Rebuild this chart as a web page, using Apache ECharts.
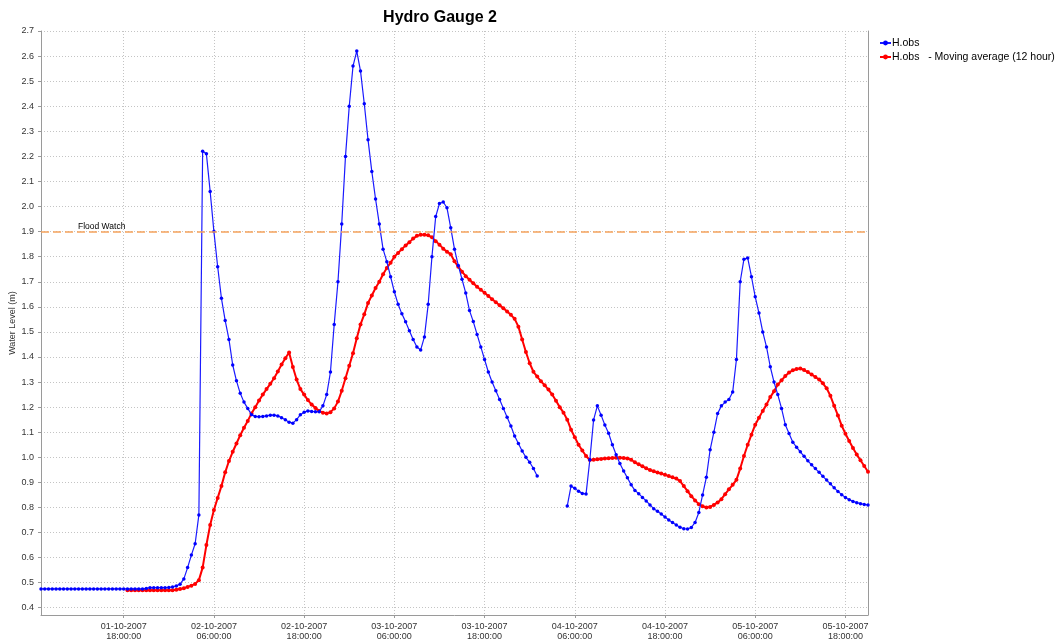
<!DOCTYPE html>
<html>
<head>
<meta charset="utf-8">
<title>Hydro Gauge 2</title>
<script src="https://cdn.jsdelivr.net/npm/echarts@6/dist/echarts.min.js"></script>
<style>
  html, body { margin: 0; padding: 0; background: #ffffff; }
  #chart { width: 1060px; height: 643px; }
</style>
</head>
<body>
<div id="chart"></div>
<script>
// Time is counted in hours from 01-10-2007 00:00, one reading every 30 minutes.
const STEP_HOURS = 0.5;
const OBS_START_HOUR = 7;     // 01-10-2007 07:00
const AVG_START_HOUR = 18.5;  // first complete 12 hour window

// Observed water level (m); null = no reading
const obsLevels = [
  0.475, 0.475, 0.475, 0.475, 0.475, 0.475, 0.475, 0.475, 0.475, 0.475,
  0.475, 0.475, 0.475, 0.475, 0.475, 0.475, 0.475, 0.475, 0.475, 0.475,
  0.475, 0.475, 0.475, 0.475, 0.475, 0.475, 0.475, 0.475, 0.477, 0.48,
  0.48, 0.48, 0.48, 0.48, 0.481, 0.483, 0.487, 0.494, 0.515, 0.56,
  0.61, 0.655, 0.77, 2.22, 2.21, 2.06, 1.90, 1.76, 1.634, 1.545,
  1.47, 1.368, 1.305, 1.255, 1.22, 1.195, 1.17, 1.163, 1.162, 1.163,
  1.165, 1.168, 1.168, 1.165, 1.158, 1.15, 1.14, 1.136, 1.15, 1.17,
  1.18, 1.185, 1.183, 1.182, 1.182, 1.205, 1.25, 1.34, 1.53, 1.70,
  1.93, 2.20, 2.40, 2.56, 2.62, 2.54, 2.41, 2.266, 2.14, 2.03,
  1.93, 1.83, 1.78, 1.72, 1.66, 1.61, 1.572, 1.54, 1.505, 1.47,
  1.44, 1.428, 1.48, 1.61, 1.80, 1.96, 2.012, 2.018, 1.995, 1.915,
  1.83, 1.765, 1.71, 1.655, 1.585, 1.541, 1.49, 1.44, 1.39, 1.34,
  1.30, 1.265, 1.23, 1.195, 1.16, 1.125, 1.085, 1.055, 1.025, 1.0,
  0.98, 0.955, 0.925, null, null, null, null, null, null, null,
  0.806, 0.885, 0.876, 0.865, 0.856, 0.854, 0.99, 1.149, 1.205, 1.168,
  1.129, 1.096, 1.05, 1.01, 0.975, 0.945, 0.918, 0.89, 0.868, 0.855,
  0.84, 0.826, 0.81, 0.795, 0.785, 0.774, 0.762, 0.75, 0.74, 0.73,
  0.721, 0.715, 0.714, 0.72, 0.74, 0.78, 0.85, 0.92, 1.03, 1.10,
  1.175, 1.205, 1.22, 1.23, 1.26, 1.39, 1.70, 1.79, 1.795, 1.72,
  1.64, 1.575, 1.50, 1.44, 1.361, 1.30, 1.25, 1.195, 1.13, 1.095,
  1.06, 1.04, 1.022, 1.004, 0.986, 0.97, 0.955, 0.94, 0.924, 0.909,
  0.894, 0.878, 0.864, 0.851, 0.84, 0.831, 0.824, 0.819, 0.815, 0.812,
  0.81
];

// 12 hour moving average of the observed level (m)
const avgLevels = [
  0.47, 0.47, 0.47, 0.47, 0.47, 0.47, 0.47, 0.47, 0.47, 0.47,
  0.47, 0.47, 0.47, 0.472, 0.475, 0.478, 0.483, 0.488, 0.495, 0.51,
  0.56, 0.65, 0.73, 0.79, 0.838, 0.885, 0.94, 0.985, 1.022, 1.055,
  1.088, 1.118, 1.145, 1.175, 1.20, 1.226, 1.25, 1.272, 1.293, 1.315,
  1.342, 1.37, 1.395, 1.418, 1.36, 1.31, 1.272, 1.25, 1.228, 1.21,
  1.197, 1.185, 1.178, 1.175, 1.18, 1.195, 1.222, 1.265, 1.315, 1.365,
  1.415, 1.475, 1.53, 1.57, 1.615, 1.645, 1.675, 1.70, 1.73, 1.755,
  1.776, 1.80, 1.815, 1.83, 1.845, 1.858, 1.872, 1.883, 1.887, 1.887,
  1.885, 1.877, 1.862, 1.848, 1.832, 1.82, 1.81, 1.782, 1.76, 1.74,
  1.722, 1.708, 1.694, 1.68, 1.668, 1.656, 1.643, 1.63, 1.618, 1.606,
  1.594, 1.581, 1.568, 1.552, 1.521, 1.47, 1.42, 1.375, 1.341, 1.322,
  1.303, 1.287, 1.27, 1.25, 1.225, 1.2, 1.178, 1.15, 1.11, 1.08,
  1.05, 1.027, 1.005, 0.989, 0.99, 0.992, 0.993, 0.995, 0.996, 0.997,
  0.998, 0.998, 0.997, 0.995, 0.99, 0.98, 0.972, 0.964, 0.956, 0.949,
  0.944, 0.939, 0.935, 0.93, 0.925, 0.92, 0.915, 0.905, 0.885, 0.865,
  0.845, 0.828, 0.813, 0.805, 0.80, 0.802, 0.81, 0.82, 0.833, 0.853,
  0.872, 0.89, 0.91, 0.955, 1.005, 1.05, 1.09, 1.13, 1.158, 1.185,
  1.21, 1.24, 1.263, 1.29, 1.307, 1.324, 1.338, 1.347, 1.352, 1.354,
  1.348, 1.34, 1.33, 1.32, 1.31, 1.295, 1.275, 1.245, 1.205, 1.167,
  1.126, 1.094, 1.065, 1.037, 1.011, 0.988, 0.965, 0.942
];

const FLOOD_WATCH_LEVEL = 1.9;
const FLOOD_WATCH_TEXT = 'Flood Watch';

const xTickHours = [18, 30, 42, 54, 66, 78, 90, 102, 114];
const xTickLabels = [
  '01-10-2007\n18:00:00', '02-10-2007\n06:00:00', '02-10-2007\n18:00:00',
  '03-10-2007\n06:00:00', '03-10-2007\n18:00:00', '04-10-2007\n06:00:00',
  '04-10-2007\n18:00:00', '05-10-2007\n06:00:00', '05-10-2007\n18:00:00'
];
const yTicks = [0.4, 0.5, 0.6, 0.7, 0.8, 0.9, 1.0, 1.1, 1.2, 1.3, 1.4, 1.5,
  1.6, 1.7, 1.8, 1.9, 2.0, 2.1, 2.2, 2.3, 2.4, 2.5, 2.6, 2.7];

const seriesNames = ['H.obs', 'H.obs   - Moving average (12 hour)'];
const chartTitle = 'Hydro Gauge 2';
const yAxisName = 'Water Level (m)';

const FONT = '"Liberation Sans", Arial, sans-serif';

const toPairs = (values, start) => values.map((v, i) => [start + i * STEP_HOURS, v]);

const chart = echarts.init(document.getElementById('chart'), null, { renderer: 'canvas' });

const gridLine = { show: true, lineStyle: { color: '#c4c4c4', type: [1, 2], width: 1 } };
const axisLine = { show: true, lineStyle: { color: '#9a9a9a', width: 1 } };

chart.setOption({
  animation: false,
  backgroundColor: '#ffffff',
  title: {
    text: chartTitle,
    left: 435,
    top: 5,
    textAlign: 'center',
    textStyle: { fontFamily: FONT, fontSize: 16, fontWeight: 'bold', color: '#000000' }
  },
  legend: {
    orient: 'vertical',
    left: 879,
    top: 36,
    padding: 0,
    itemWidth: 11,
    itemHeight: 6,
    itemGap: 0,
    textStyle: { fontFamily: FONT, fontSize: 10.5, color: '#000000', lineHeight: 14, padding: [0, 0, 0, -4] },
    data: seriesNames
  },
  grid: { left: 41, right: 192, top: 31, bottom: 28, containLabel: false, outerBoundsMode: 'none' },
  xAxis: {
    type: 'value',
    min: 7,
    max: 117,
    axisLine: axisLine,
    axisTick: { show: true, customValues: xTickHours, length: 3, lineStyle: { color: '#9a9a9a' } },
    axisLabel: {
      customValues: xTickHours,
      fontFamily: FONT,
      fontSize: 9,
      lineHeight: 10,
      color: '#333333',
      margin: 7,
      formatter: v => {
        const i = xTickHours.findIndex(h => Math.abs(h - v) < 1e-6);
        return i >= 0 ? xTickLabels[i] : '';
      }
    },
    splitLine: gridLine
  },
  yAxis: [{
    type: 'value',
    min: 0.371,
    max: 2.7,
    name: yAxisName,
    nameLocation: 'middle',
    nameGap: 24,
    nameMoveOverlap: false,
    nameTextStyle: { fontFamily: FONT, fontSize: 9, color: '#333333' },
    axisLine: axisLine,
    axisTick: { show: true, customValues: yTicks, length: 3, lineStyle: { color: '#9a9a9a' } },
    axisLabel: {
      customValues: yTicks,
      fontFamily: FONT,
      fontSize: 9,
      color: '#333333',
      margin: 7,
      formatter: v => v.toFixed(1)
    },
    splitLine: gridLine
  }, {
    type: 'value',
    position: 'right',
    min: 0.371,
    max: 2.7,
    axisLine: axisLine,
    axisTick: { show: false },
    axisLabel: { show: false },
    splitLine: { show: false }
  }],
  series: [{
    name: seriesNames[0],
    type: 'line',
    data: toPairs(obsLevels, OBS_START_HOUR),
    color: '#0000ff',
    symbol: 'circle',
    symbolSize: 3.5,
    showSymbol: true,
    lineStyle: { width: 1.2, color: '#1a1aff' },
    itemStyle: { color: '#0000ff' },
    z: 3,
    markLine: {
      silent: true,
      symbol: 'none',
      animation: false,
      lineStyle: { color: '#f5a35c', type: [8, 4], width: 1.5 },
      label: {
        show: true,
        position: 'insideStartTop',
        distance: [37, 0],
        formatter: FLOOD_WATCH_TEXT,
        fontFamily: FONT,
        fontSize: 8.5,
        color: '#000000'
      },
      data: [{ yAxis: FLOOD_WATCH_LEVEL }]
    }
  }, {
    name: seriesNames[1],
    type: 'line',
    data: toPairs(avgLevels, AVG_START_HOUR),
    color: '#ff0000',
    symbol: 'circle',
    symbolSize: 4,
    showSymbol: true,
    lineStyle: { width: 2, color: '#ff0000' },
    itemStyle: { color: '#ff0000' },
    z: 2
  }]
});
</script>
</body>
</html>
